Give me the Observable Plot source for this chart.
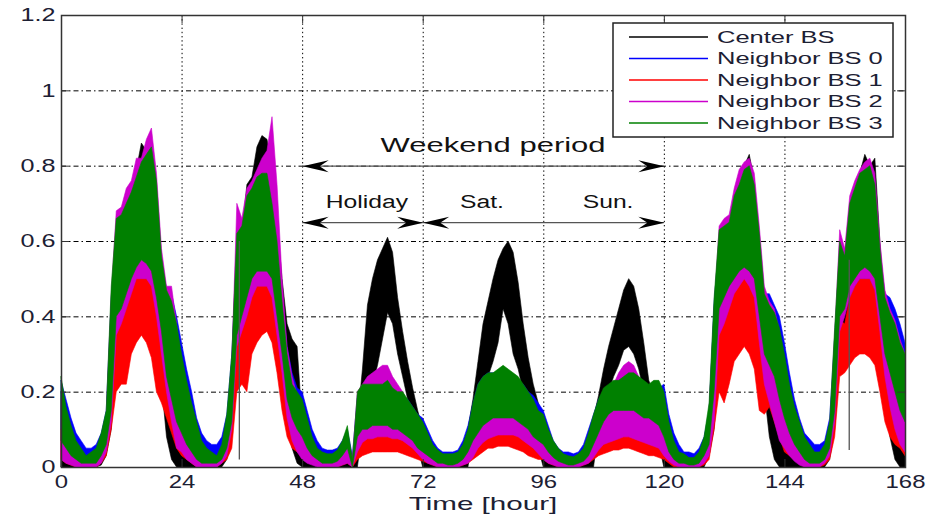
<!DOCTYPE html>
<html><head><meta charset="utf-8">
<script src="https://cdn.jsdelivr.net/npm/d3@7"></script>
<script src="https://cdn.jsdelivr.net/npm/@observablehq/plot@0.6"></script>
<style>html,body{margin:0;padding:0;background:#fff}#chart svg{display:block}</style>
</head><body><div id="chart"></div>
<script>
// ---------- data ----------
const xTicks = [0, 24, 48, 72, 96, 120, 144, 168];
const yTicks = [0, 0.2, 0.4, 0.6, 0.8, 1, 1.2];
const yTickLabels = ["0", "0.2", "0.4", "0.6", "0.8", "1", "1.2"];
const xLabel = "Time [hour]";
const seriesNames = ["Center BS", "Neighbor BS 0", "Neighbor BS 1", "Neighbor BS 2", "Neighbor BS 3"];
const seriesColors = ["#000000", "#0000ff", "#ff0000", "#cc00cc", "#008000"];

// hourly upper / lower envelope of each noisy trace, hours 0..168
const centerHi = [
0.20,0.12,0.07,0.04,0.025,0.015,0.015,0.03,0.07,0.13,0.42,0.62,0.64,0.68,0.72,0.79,0.86,0.84,0.84,0.70,0.50,0.40,0.30,0.20,
0.14,0.10,0.06,0.04,0.025,0.02,0.02,0.02,0.04,0.10,0.28,0.60,0.62,0.75,0.77,0.85,0.88,0.87,0.80,0.65,0.50,0.38,0.34,0.32,
0.12,0.07,0.04,0.025,0.015,0.01,0.01,0.015,0.03,0.05,0.00,0.12,0.26,0.43,0.50,0.55,0.58,0.61,0.57,0.45,0.36,0.28,0.21,0.15,
0.10,0.06,0.04,0.025,0.015,0.01,0.01,0.015,0.05,0.10,0.18,0.28,0.38,0.44,0.50,0.55,0.58,0.60,0.57,0.49,0.38,0.29,0.22,0.17,
0.12,0.07,0.04,0.02,0.01,0.01,0.01,0.02,0.04,0.08,0.13,0.19,0.26,0.32,0.37,0.42,0.47,0.50,0.48,0.42,0.33,0.23,0.19,0.15,
0.15,0.08,0.04,0.02,0.01,0.01,0.01,0.03,0.07,0.14,0.42,0.60,0.62,0.64,0.70,0.75,0.80,0.83,0.76,0.60,0.44,0.38,0.30,0.20,
0.14,0.10,0.07,0.05,0.03,0.02,0.015,0.015,0.03,0.08,0.30,0.55,0.52,0.66,0.72,0.78,0.83,0.80,0.82,0.60,0.42,0.36,0.30,0.25,0.20];
const centerLo = [
0,0,0,0,0,0,0,0,0.005,0.03,0.10,0.30,0.35,0.40,0.45,0.50,0.50,0.50,0.45,0.35,0.22,0.08,0.02,0,
0,0,0,0,0,0,0,0,0,0.02,0.08,0.30,0.35,0.40,0.45,0.50,0.50,0.50,0.45,0.35,0.25,0.12,0.05,0.01,
0,0,0,0,0,0,0,0,0,0,0,0,0.10,0.18,0.22,0.27,0.34,0.41,0.38,0.30,0.24,0.18,0.12,0.05,
0,0,0,0,0,0,0,0,0,0,0.08,0.15,0.20,0.24,0.28,0.33,0.42,0.38,0.30,0.26,0.20,0.15,0.10,0.05,
0,0,0,0,0,0,0,0,0,0,0,0.10,0.15,0.20,0.24,0.27,0.31,0.32,0.30,0.26,0.20,0.15,0.10,0.06,
0,0,0,0,0,0,0,0,0,0.03,0.10,0.30,0.35,0.40,0.45,0.50,0.50,0.50,0.45,0.32,0.20,0.08,0.02,0,
0,0,0,0,0,0,0,0,0,0.02,0.10,0.30,0.35,0.42,0.46,0.50,0.50,0.50,0.46,0.33,0.20,0.08,0.02,0,0];

const n0Hi = [
0.23,0.18,0.13,0.09,0.07,0.05,0.05,0.06,0.09,0.15,0.45,0.60,0.64,0.68,0.72,0.75,0.78,0.78,0.78,0.72,0.55,0.47,0.46,0.40,
0.33,0.26,0.20,0.13,0.09,0.07,0.06,0.06,0.08,0.14,0.30,0.58,0.62,0.68,0.72,0.75,0.76,0.76,0.70,0.60,0.46,0.32,0.25,0.21,
0.20,0.15,0.10,0.07,0.05,0.045,0.045,0.05,0.07,0.10,0.03,0.19,0.21,0.21,0.21,0.21,0.21,0.20,0.20,0.20,0.19,0.18,0.16,0.14,
0.13,0.10,0.07,0.05,0.04,0.04,0.04,0.045,0.07,0.11,0.17,0.22,0.24,0.25,0.25,0.25,0.26,0.25,0.24,0.23,0.22,0.20,0.19,0.17,
0.15,0.11,0.07,0.05,0.04,0.04,0.035,0.04,0.06,0.10,0.14,0.18,0.20,0.21,0.22,0.22,0.23,0.24,0.24,0.23,0.22,0.21,0.21,0.21,
0.22,0.14,0.09,0.06,0.04,0.04,0.035,0.05,0.08,0.15,0.44,0.60,0.62,0.64,0.70,0.73,0.76,0.77,0.73,0.60,0.46,0.46,0.43,0.40,
0.33,0.25,0.18,0.13,0.09,0.075,0.06,0.06,0.07,0.13,0.35,0.57,0.55,0.68,0.72,0.76,0.77,0.78,0.73,0.57,0.46,0.45,0.42,0.38,0.33];
const n0Lo = [
0.10,0.07,0.05,0.03,0.02,0.015,0.015,0.02,0.04,0.07,0.15,0.40,0.45,0.50,0.53,0.54,0.55,0.55,0.50,0.42,0.32,0.25,0.20,0.15,
0.14,0.10,0.07,0.05,0.03,0.02,0.02,0.02,0.03,0.06,0.12,0.38,0.42,0.47,0.50,0.52,0.53,0.53,0.50,0.40,0.28,0.18,0.14,0.12,
0.08,0.05,0.03,0.02,0.015,0.01,0.01,0.015,0.02,0.04,0,0.08,0.10,0.10,0.10,0.10,0.10,0.10,0.10,0.09,0.09,0.08,0.07,0.06,
0.06,0.04,0.03,0.02,0.015,0.01,0.01,0.015,0.02,0.04,0.07,0.10,0.12,0.13,0.14,0.14,0.15,0.15,0.14,0.13,0.12,0.11,0.10,0.08,
0.06,0.04,0.025,0.015,0.01,0.01,0.01,0.01,0.02,0.04,0.06,0.09,0.11,0.12,0.13,0.13,0.14,0.14,0.13,0.12,0.12,0.11,0.10,0.10,
0.09,0.05,0.03,0.02,0.01,0.01,0.01,0.02,0.04,0.08,0.20,0.40,0.45,0.48,0.50,0.52,0.53,0.52,0.50,0.40,0.30,0.27,0.24,0.20,
0.15,0.11,0.08,0.05,0.03,0.02,0.015,0.015,0.02,0.05,0.15,0.40,0.42,0.47,0.50,0.52,0.53,0.52,0.50,0.40,0.28,0.24,0.20,0.16,0.14];

const n1Hi = [
0.10,0.06,0.04,0.02,0.015,0.01,0.01,0.02,0.04,0.10,0.30,0.40,0.42,0.48,0.52,0.55,0.57,0.55,0.53,0.47,0.38,0.30,0.24,0.17,
0.12,0.08,0.05,0.03,0.02,0.01,0.01,0.01,0.03,0.07,0.15,0.40,0.43,0.47,0.50,0.52,0.53,0.52,0.48,0.42,0.32,0.22,0.17,0.13,
0.10,0.07,0.04,0.03,0.02,0.015,0.015,0.02,0.03,0.05,0.02,0.07,0.09,0.10,0.10,0.10,0.11,0.10,0.10,0.095,0.09,0.08,0.07,0.06,
0.05,0.04,0.03,0.02,0.015,0.01,0.01,0.015,0.02,0.03,0.05,0.07,0.09,0.10,0.11,0.12,0.12,0.12,0.11,0.10,0.09,0.08,0.07,0.06,
0.06,0.04,0.03,0.02,0.01,0.01,0.01,0.015,0.02,0.03,0.05,0.07,0.08,0.09,0.10,0.11,0.12,0.12,0.11,0.10,0.10,0.09,0.09,0.08,
0.06,0.04,0.02,0.01,0.01,0.005,0.005,0.01,0.03,0.07,0.30,0.40,0.42,0.45,0.48,0.50,0.52,0.50,0.47,0.35,0.28,0.27,0.25,0.20,
0.14,0.10,0.07,0.05,0.03,0.02,0.01,0.01,0.03,0.07,0.24,0.39,0.38,0.45,0.48,0.50,0.50,0.50,0.47,0.40,0.30,0.27,0.22,0.17,0.14];
const n1Lo = [
0.02,0.01,0.005,0,0,0,0,0,0.01,0.03,0.10,0.20,0.22,0.22,0.30,0.33,0.35,0.33,0.29,0.20,0.17,0.13,0.09,0.05,
0.03,0.02,0.01,0,0,0,0,0,0.01,0.02,0.05,0.20,0.22,0.20,0.30,0.33,0.35,0.36,0.33,0.25,0.15,0.08,0.05,0.04,
0.03,0.02,0.01,0.005,0,0,0,0,0.005,0.01,0,0.02,0.03,0.035,0.04,0.04,0.04,0.04,0.04,0.04,0.035,0.03,0.025,0.02,
0.015,0.01,0.005,0,0,0,0,0,0.005,0.01,0.02,0.03,0.04,0.05,0.05,0.055,0.055,0.055,0.05,0.045,0.04,0.03,0.025,0.02,
0.02,0.01,0.005,0,0,0,0,0,0.005,0.01,0.02,0.03,0.035,0.04,0.045,0.045,0.05,0.05,0.045,0.04,0.035,0.03,0.03,0.025,
0.02,0.01,0,0,0,0,0,0,0.005,0.02,0.10,0.20,0.17,0.22,0.28,0.30,0.32,0.30,0.26,0.15,0.14,0.16,0.12,0.08,
0.04,0.03,0.02,0.01,0,0,0,0,0.005,0.02,0.08,0.24,0.25,0.27,0.29,0.30,0.30,0.29,0.27,0.20,0.12,0.08,0.06,0.05,0.03];

const n2Hi = [
0.18,0.12,0.08,0.05,0.03,0.02,0.02,0.04,0.08,0.14,0.46,0.68,0.69,0.74,0.76,0.82,0.82,0.87,0.90,0.78,0.58,0.48,0.48,0.38,
0.25,0.18,0.12,0.08,0.05,0.03,0.02,0.02,0.05,0.12,0.28,0.70,0.66,0.74,0.76,0.79,0.82,0.84,0.93,0.75,0.50,0.32,0.24,0.19,
0.16,0.11,0.07,0.04,0.03,0.02,0.02,0.03,0.05,0.08,0.02,0.20,0.22,0.24,0.25,0.26,0.27,0.27,0.24,0.22,0.20,0.17,0.14,0.11,
0.10,0.07,0.05,0.03,0.02,0.015,0.015,0.02,0.04,0.07,0.12,0.17,0.20,0.21,0.22,0.23,0.24,0.24,0.23,0.22,0.20,0.18,0.16,0.13,
0.11,0.08,0.05,0.03,0.02,0.015,0.015,0.02,0.04,0.07,0.11,0.15,0.18,0.20,0.22,0.25,0.27,0.28,0.27,0.24,0.21,0.20,0.19,0.18,
0.17,0.10,0.06,0.03,0.02,0.01,0.01,0.03,0.07,0.15,0.42,0.64,0.66,0.67,0.74,0.79,0.81,0.82,0.78,0.64,0.48,0.44,0.42,0.36,
0.28,0.20,0.14,0.10,0.06,0.04,0.03,0.03,0.05,0.10,0.35,0.63,0.58,0.72,0.76,0.79,0.81,0.82,0.78,0.60,0.47,0.42,0.39,0.34,0.30];
const n2Lo = [
0.02,0.01,0.005,0,0,0,0,0,0.01,0.04,0.12,0.35,0.38,0.42,0.46,0.50,0.50,0.50,0.48,0.40,0.30,0.20,0.12,0.05,
0.04,0.02,0.01,0,0,0,0,0,0.01,0.03,0.10,0.32,0.36,0.40,0.45,0.48,0.48,0.48,0.45,0.35,0.25,0.13,0.07,0.04,
0.02,0.01,0.005,0,0,0,0,0,0.005,0.01,0,0.04,0.065,0.075,0.075,0.08,0.08,0.08,0.075,0.075,0.07,0.06,0.05,0.035,
0.02,0.01,0.005,0,0,0,0,0,0.005,0.01,0.025,0.05,0.065,0.075,0.08,0.085,0.085,0.085,0.085,0.08,0.07,0.06,0.05,0.035,
0.02,0.01,0.005,0,0,0,0,0,0.005,0.01,0.025,0.045,0.06,0.065,0.07,0.075,0.08,0.08,0.075,0.07,0.065,0.06,0.055,0.05,
0.03,0.015,0.005,0,0,0,0,0,0.01,0.03,0.12,0.35,0.38,0.42,0.46,0.48,0.50,0.48,0.45,0.33,0.22,0.17,0.12,0.07,
0.05,0.03,0.015,0.005,0,0,0,0,0.01,0.03,0.12,0.36,0.40,0.45,0.48,0.50,0.50,0.50,0.47,0.36,0.24,0.16,0.10,0.06,0.04];

const n3Hi = [
0.24,0.16,0.11,0.07,0.05,0.03,0.04,0.05,0.09,0.15,0.48,0.66,0.67,0.70,0.73,0.77,0.81,0.83,0.85,0.76,0.56,0.47,0.44,0.38,
0.30,0.23,0.17,0.12,0.07,0.05,0.04,0.03,0.06,0.14,0.30,0.62,0.64,0.72,0.74,0.77,0.78,0.78,0.70,0.60,0.44,0.30,0.22,0.20,
0.18,0.13,0.08,0.05,0.04,0.035,0.035,0.045,0.07,0.11,0.02,0.20,0.22,0.22,0.22,0.22,0.22,0.23,0.21,0.20,0.20,0.18,0.16,0.14,
0.12,0.09,0.06,0.045,0.035,0.035,0.035,0.04,0.06,0.10,0.17,0.22,0.24,0.25,0.25,0.26,0.27,0.26,0.25,0.24,0.22,0.20,0.18,0.15,
0.14,0.10,0.07,0.05,0.035,0.03,0.027,0.035,0.05,0.09,0.14,0.18,0.21,0.22,0.23,0.23,0.24,0.25,0.25,0.24,0.23,0.22,0.23,0.23,
0.20,0.12,0.07,0.04,0.035,0.025,0.025,0.04,0.08,0.17,0.45,0.63,0.64,0.65,0.72,0.75,0.79,0.80,0.75,0.62,0.46,0.43,0.41,0.37,
0.30,0.22,0.16,0.12,0.08,0.06,0.04,0.04,0.06,0.12,0.37,0.60,0.56,0.70,0.74,0.78,0.79,0.80,0.75,0.58,0.45,0.41,0.38,0.33,0.30];
const n3Lo = [
0.07,0.05,0.03,0.02,0.01,0.01,0.01,0.01,0.03,0.06,0.15,0.40,0.42,0.46,0.50,0.53,0.55,0.54,0.52,0.45,0.36,0.24,0.18,0.12,
0.09,0.06,0.04,0.02,0.01,0.01,0.01,0.01,0.02,0.05,0.12,0.35,0.40,0.45,0.50,0.52,0.52,0.52,0.50,0.40,0.30,0.18,0.13,0.10,
0.08,0.05,0.03,0.02,0.01,0.01,0.01,0.015,0.03,0.05,0.00,0.08,0.10,0.10,0.11,0.11,0.11,0.11,0.10,0.10,0.09,0.08,0.07,0.05,
0.04,0.03,0.02,0.01,0.01,0.005,0.005,0.01,0.02,0.04,0.07,0.09,0.11,0.12,0.13,0.13,0.13,0.13,0.13,0.12,0.11,0.10,0.08,0.07,
0.06,0.04,0.025,0.015,0.01,0.005,0.005,0.01,0.015,0.03,0.06,0.09,0.12,0.14,0.15,0.15,0.15,0.15,0.15,0.14,0.13,0.13,0.12,0.11,
0.08,0.04,0.02,0.01,0.01,0.005,0.005,0.01,0.03,0.06,0.20,0.42,0.45,0.48,0.50,0.52,0.53,0.52,0.50,0.40,0.30,0.27,0.24,0.18,
0.13,0.09,0.06,0.04,0.02,0.01,0.01,0.01,0.02,0.05,0.15,0.40,0.42,0.48,0.50,0.52,0.53,0.52,0.50,0.40,0.30,0.25,0.20,0.15,0.12];

// short outage dips (hour, low, high)
const dipHours = [35.4, 156.8];
const dipLows = [0.02, 0.045];
const dipHighs = [0.6, 0.55];

// period annotations
const arrowFrom = [48, 48, 72];
const arrowTo = [120, 72, 120];
const arrowLevel = [0.8, 0.65, 0.65];
const periodLabels = ["Weekend period", "Holiday", "Sat.", "Sun."];
const periodLabelHour = [86, 60.9, 83.8, 108.9];
const periodLabelLevel = [0.853, 0.704, 0.704, 0.704];

// ---------- build tables ----------
const hiArrays = [centerHi, n0Hi, n1Hi, n2Hi, n3Hi];
const loArrays = [centerLo, n0Lo, n1Lo, n2Lo, n3Lo];
const seriesTables = seriesNames.map((name, s) =>
  hiArrays[s].map((hi, h) => ({series: name, hour: h, hi, lo: loArrays[s][h]})));
const dips = dipHours.map((h, i) => ({hour: h, lo: dipLows[i], hi: dipHighs[i]}));
const arrows = arrowFrom.map((f, i) => ({from: f, to: arrowTo[i], y: arrowLevel[i]}));

const arrowHead = {draw(ctx) { ctx.moveTo(0, 0); ctx.lineTo(-6, 26); ctx.lineTo(0, 17); ctx.lineTo(6, 26); ctx.closePath(); }};

const W = 931, H = 518, mL = 61, mR = 26, mT = 15, mB = 51;
const pw = W - mL - mR, ph = H - mT - mB;
const font = "'Liberation Sans', Arial, Helvetica, sans-serif";

const plot = Plot.plot({
  width: W, height: H,
  marginLeft: mL, marginRight: mR, marginTop: mT, marginBottom: mB,
  x: {domain: [0, 168]},
  y: {domain: [0, 1.2]},
  style: {fontFamily: font, fontSize: "18px", color: "#1c2033", background: "#fff", overflow: "visible"},
  marks: [
    Plot.gridX(xTicks.slice(1, -1), {stroke: "#000", strokeOpacity: 1, strokeWidth: 1, strokeDasharray: "1.4,2.8"}),
    Plot.gridY(yTicks.slice(1, -1), {stroke: "#000", strokeOpacity: 1, strokeWidth: 1, strokeDasharray: "5,3,1.5,3"}),
    ...seriesTables.map((t, s) => Plot.areaY(t, {x: "hour", y1: "lo", y2: "hi", fill: seriesColors[s], stroke: seriesColors[s], strokeWidth: 0.6})),
    Plot.ruleX(dips, {x: "hour", y1: "lo", y2: "hi", stroke: "#555", strokeWidth: 1.3}),
    Plot.tickX(xTicks, {x: d => d, insetBottom: ph - 8, stroke: "#333"}),
    Plot.tickX(xTicks, {x: d => d, insetTop: ph - 8, stroke: "#333"}),
    Plot.tickY(yTicks, {y: d => d, insetRight: pw - 8, stroke: "#333"}),
    Plot.tickY(yTicks, {y: d => d, insetLeft: pw - 8, stroke: "#333"}),
    Plot.frame({stroke: "#333", strokeWidth: 1.5}),
    Plot.axisX({ticks: xTicks, tickSize: 0, tickPadding: 8, label: null, fontSize: 18}),
    Plot.axisY({ticks: yTicks, tickSize: 0, tickPadding: 6, label: null, fontSize: 18,
      tickFormat: d => yTickLabels[yTicks.indexOf(d)]}),
    Plot.ruleY(arrows, {y: "y", x1: "from", x2: "to", stroke: "#555", strokeWidth: 1.2}),
    Plot.dot(arrows, {x: "from", y: "y", symbol: arrowHead, rotate: -90, fill: "#000", stroke: "none"}),
    Plot.dot(arrows, {x: "to", y: "y", symbol: arrowHead, rotate: 90, fill: "#000", stroke: "none"})
  ]
});
document.getElementById("chart").appendChild(plot);

const svg = d3.select(plot);
function stretch(sel, s) {
  sel.each(function() {
    const t = this.getAttribute("transform") || "";
    const x = +(this.getAttribute("x") || 0);
    this.setAttribute("transform", `${t} translate(${x},0) scale(${s},1) translate(${-x},0)`);
  });
}
stretch(svg.selectAll('g[aria-label="x-axis tick label"] text'), 1.33);
stretch(svg.selectAll('g[aria-label="y-axis tick label"] text'), 1.4);

// period labels, placed through the plot's own scales
const xs = plot.scale("x"), ys = plot.scale("y");
periodLabels.forEach((label, i) => {
  const t = svg.append("text")
    .attr("x", xs.apply(periodLabelHour[i])).attr("y", ys.apply(periodLabelLevel[i]))
    .attr("dy", "0.32em").attr("text-anchor", "middle")
    .attr("font-family", font).attr("font-size", i === 0 ? 20 : 19).attr("fill", "#111").text(label);
  stretch(t, i === 0 ? 1.55 : 1.3);
});

// x axis title
const xt = svg.append("text").attr("x", mL + pw / 2).attr("y", 510).attr("text-anchor", "middle")
  .attr("font-size", 18.5).attr("fill", "#1c2033").attr("font-family", font).text(xLabel);
stretch(xt, 1.6);

// legend (inside the axes, top-right)
const lg = svg.append("g").attr("font-family", font).attr("font-size", 17).attr("text-anchor", "start");
lg.append("rect").attr("x", 613).attr("y", 23).attr("width", 280).attr("height", 114)
  .attr("fill", "#fff").attr("stroke", "#222").attr("stroke-width", 1.5);
seriesNames.forEach((name, i) => {
  const y = 37 + i * 21.5;
  lg.append("line").attr("x1", 629).attr("x2", 708).attr("y1", y).attr("y2", y)
    .attr("stroke", seriesColors[i]).attr("stroke-width", 1.5);
  const t = lg.append("text").attr("x", 717).attr("y", y).attr("dy", "0.35em")
    .attr("text-anchor", "start").attr("fill", "#1c2033").text(name);
  stretch(t, 1.5);
});
</script>
</body></html>
